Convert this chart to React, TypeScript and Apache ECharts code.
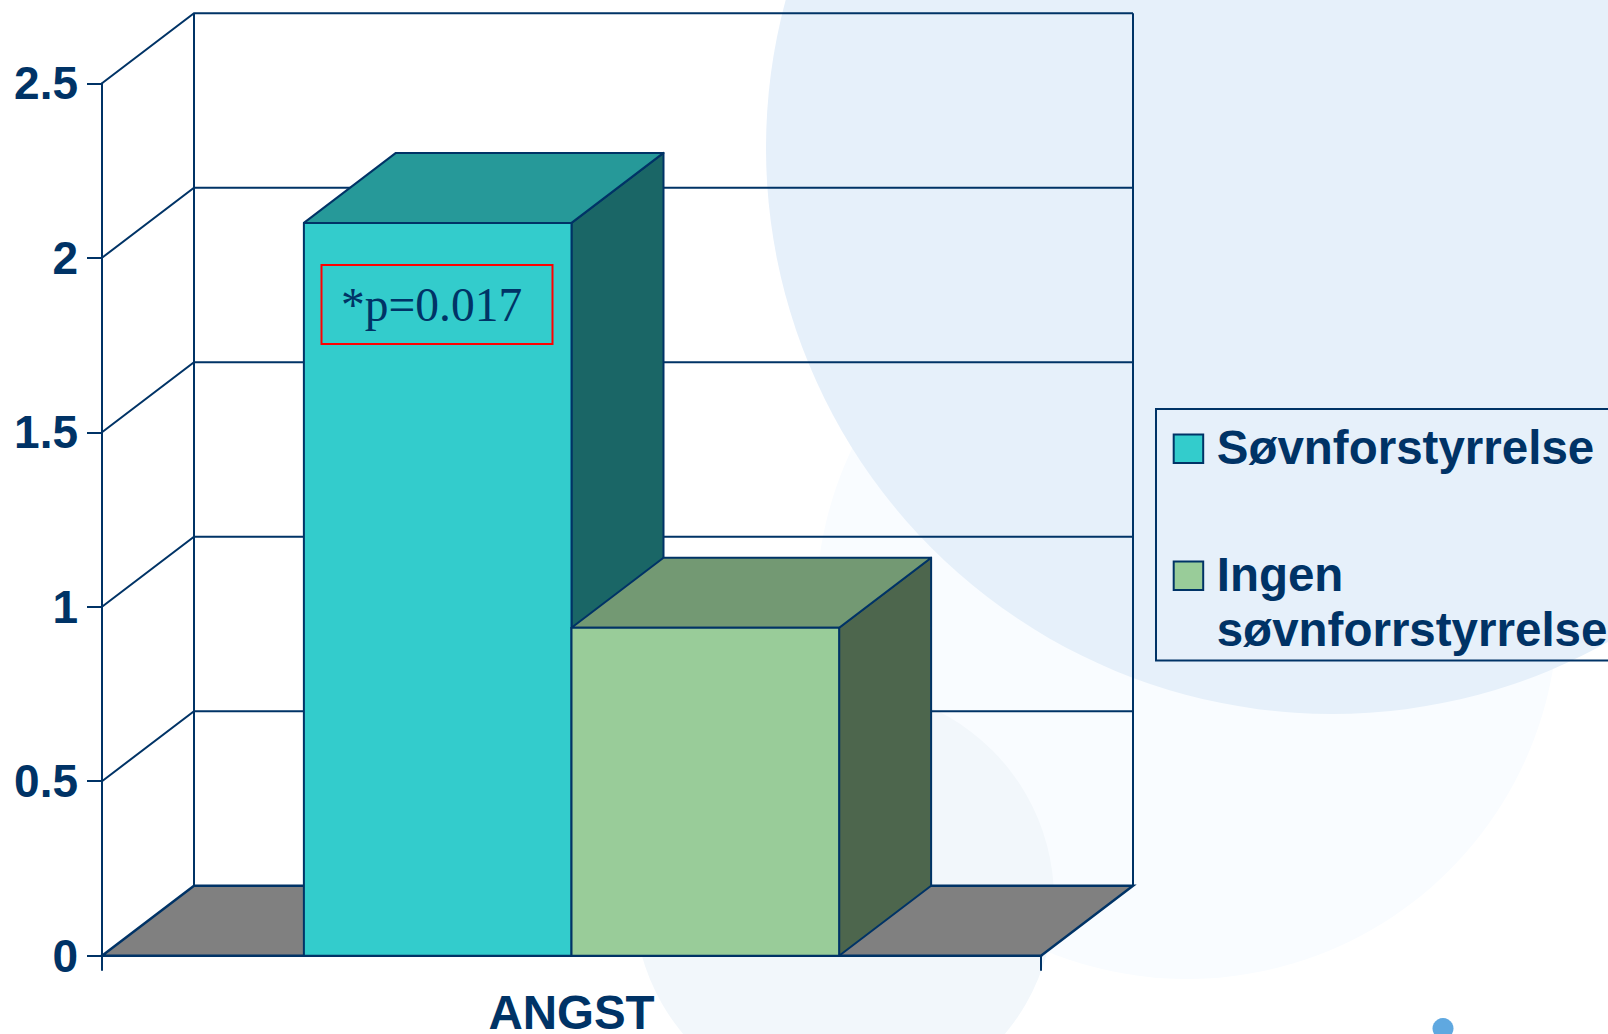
import React, { useEffect, useRef } from "react";
import * as echarts from "echarts";

const categories = ["ANGST"];
const yTicks = [0, 0.5, 1, 1.5, 2, 2.5];
const sleepDisorderValues = [2.1];
const noSleepDisorderValues = [0.94];
const sleepName = "Søvnforstyrrelse";
const noSleepName = "Ingen søvnforrstyrrelse";
const annotationText = "*p=0.017";

const NAVY = "#003366";
const DEPTH_X = 92;
const DEPTH_Y = 70;
const BAR_SHARE = 0.285;
const SANS = "'Liberation Sans', Arial, sans-serif";

const LEGEND_ICON = "path://M0 0L0 0M39 110L39 110M1 15H30.5V43.5H1Z";

function wallItem(_params: any, api: any) {
  const v = api.value(0);
  const band = api.size([1, 0])[0];
  const base = api.coord([0, v]);
  const leftX = base[0] - band / 2;
  const rightX = base[0] + band / 2;
  const y = base[1];
  const line = { stroke: NAVY, lineWidth: 2, fill: "none" };
  const children: any[] = [];
  if (v === 0) {
    children.push({
      type: "polygon",
      shape: {
        points: [
          [leftX, y],
          [leftX + DEPTH_X, y - DEPTH_Y],
          [rightX + DEPTH_X, y - DEPTH_Y],
          [rightX, y],
        ],
      },
      style: { fill: "#808080", stroke: NAVY, lineWidth: 2.5 },
    });
  } else {
    children.push({
      type: "polyline",
      shape: {
        points: [
          [leftX, y],
          [leftX + DEPTH_X, y - DEPTH_Y],
          [rightX + DEPTH_X, y - DEPTH_Y],
        ],
      },
      style: line,
    });
  }
  if (v === yTicks[yTicks.length - 1]) {
    const bottom = api.coord([0, 0])[1];
    children.push(
      {
        type: "line",
        shape: { x1: leftX + DEPTH_X, y1: y - DEPTH_Y, x2: leftX + DEPTH_X, y2: bottom - DEPTH_Y },
        style: line,
      },
      {
        type: "line",
        shape: { x1: rightX + DEPTH_X, y1: y - DEPTH_Y, x2: rightX + DEPTH_X, y2: bottom - DEPTH_Y },
        style: line,
      }
    );
  }
  return { type: "group", children };
}

function barItem(side: number, front: string, top: string, right: string) {
  return (_params: any, api: any) => {
    const cat = api.value(0);
    const val = api.value(1);
    const topPt = api.coord([cat, val]);
    const bottomPt = api.coord([cat, 0]);
    const w = api.size([1, 0])[0] * BAR_SHARE;
    const x0 = side < 0 ? topPt[0] - w : topPt[0];
    const x1 = x0 + w;
    const yT = topPt[1];
    const yB = bottomPt[1];
    const stroke = { stroke: NAVY, lineWidth: 2, lineJoin: "round" };
    return {
      type: "group",
      children: [
        {
          type: "polygon",
          shape: {
            points: [
              [x1, yT],
              [x1 + DEPTH_X, yT - DEPTH_Y],
              [x1 + DEPTH_X, yB - DEPTH_Y],
              [x1, yB],
            ],
          },
          style: { fill: right, ...stroke },
        },
        {
          type: "polygon",
          shape: {
            points: [
              [x0, yT],
              [x0 + DEPTH_X, yT - DEPTH_Y],
              [x1 + DEPTH_X, yT - DEPTH_Y],
              [x1, yT],
            ],
          },
          style: { fill: top, ...stroke },
        },
        {
          type: "polygon",
          shape: {
            points: [
              [x0, yT],
              [x1, yT],
              [x1, yB],
              [x0, yB],
            ],
          },
          style: { fill: front, ...stroke },
        },
      ],
    };
  };
}

export default function App() {
  const ref = useRef<HTMLDivElement>(null);

  useEffect(() => {
    document.body.style.margin = "0";
    document.body.style.overflow = "hidden";
    const chart = echarts.init(ref.current as HTMLDivElement, undefined, { renderer: "svg" });
    chart.setOption({
      animation: false,
      backgroundColor: "#ffffff",
      grid: { left: 102, right: 567, top: 83.3, bottom: 78.3, outerBoundsMode: "none" },
      xAxis: {
        type: "category",
        data: categories,
        z: 1,
        axisLine: { lineStyle: { color: NAVY, width: 3 } },
        axisTick: { show: true, length: 15, lineStyle: { color: NAVY, width: 2 } },
        axisLabel: {
          color: NAVY,
          fontFamily: SANS,
          fontWeight: "bold",
          fontSize: 47.5,
          lineHeight: 38,
          margin: 38,
        },
      },
      yAxis: {
        type: "value",
        min: 0,
        max: 2.5,
        interval: 0.5,
        z: 1,
        splitLine: { show: false },
        axisLine: { show: true, lineStyle: { color: NAVY, width: 2 } },
        axisTick: { show: true, length: 15, lineStyle: { color: NAVY, width: 2 } },
        axisLabel: {
          color: NAVY,
          fontFamily: SANS,
          fontWeight: "bold",
          fontSize: 46,
          margin: 24,
        },
      },
      legend: {
        left: 1156,
        top: 409,
        orient: "vertical",
        selectedMode: false,
        padding: [9.5, 20, 3, 15.7],
        itemGap: 15,
        itemWidth: 39,
        itemHeight: 110,
        borderColor: NAVY,
        borderWidth: 2,
        formatter: (name: string) =>
          name === sleepName ? name + "\n " : name.replace(" ", "\n"),
        textStyle: {
          color: NAVY,
          fontFamily: SANS,
          fontWeight: "bold",
          fontSize: 47.5,
          lineHeight: 55,
        },
        data: [
          {
            name: sleepName,
            icon: LEGEND_ICON,
            itemStyle: { color: "#33cccc", borderColor: NAVY, borderWidth: 2 },
          },
          {
            name: noSleepName,
            icon: LEGEND_ICON,
            itemStyle: { color: "#99cc99", borderColor: NAVY, borderWidth: 2 },
          },
        ],
      },
      graphic: {
        elements: [
          {
            type: "circle",
            z: -10,
            shape: { cx: 1187, cy: 608, r: 371 },
            style: { fill: "#f9fcff" },
          },
          {
            type: "circle",
            z: -9,
            shape: { cx: 844, cy: 899, r: 210 },
            style: { fill: "#f2f7fb" },
          },
          {
            type: "circle",
            z: -8,
            shape: { cx: 1332, cy: 148, r: 566 },
            style: { fill: "#e6f0fa" },
          },
          {
            type: "circle",
            z: -7,
            shape: { cx: 1443, cy: 1028.5, r: 10.5 },
            style: { fill: "#5fa8e0" },
          },
          {
            type: "rect",
            z: 20,
            shape: { x: 321.5, y: 265, width: 231, height: 79 },
            style: { fill: "none", stroke: "#ff0000", lineWidth: 2 },
          },
          {
            type: "text",
            z: 21,
            x: 341,
            y: 329,
            style: {
              text: annotationText,
              fill: NAVY,
              font: "47.5px 'Liberation Serif', 'Times New Roman', serif",
              textVerticalAlign: "bottom",
              verticalAlign: "alphabetic",
            },
          },
        ],
      },
      series: [
        {
          type: "custom",
          name: "vegger",
          z: 2,
          clip: false,
          silent: true,
          encode: { y: 0 },
          data: yTicks.map((v) => [v]),
          renderItem: wallItem,
        },
        {
          type: "custom",
          name: sleepName,
          z: 3,
          clip: false,
          itemStyle: { color: "#33cccc" },
          encode: { x: 0, y: 1 },
          data: sleepDisorderValues.map((v, i) => [i, v]),
          renderItem: barItem(-1, "#33cccc", "#269999", "#1a6666"),
        },
        {
          type: "custom",
          name: noSleepName,
          z: 4,
          clip: false,
          itemStyle: { color: "#99cc99" },
          encode: { x: 0, y: 1 },
          data: noSleepDisorderValues.map((v, i) => [i, v]),
          renderItem: barItem(1, "#99cc99", "#739973", "#4d664d"),
        },
      ],
    });
    return () => chart.dispose();
  }, []);

  return <div ref={ref} style={{ width: 1608, height: 1034 }} />;
}
